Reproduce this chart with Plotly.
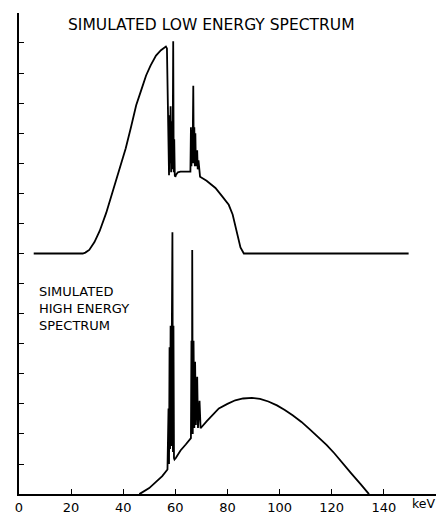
import plotly.graph_objects as go

# ---- data (keV, relative intensity in axis units) ----
low_kev = [5.7, 24.5, 25.5, 27, 29, 31, 33.5, 36, 38.5, 41, 43, 45, 47, 48.8, 50.5, 52.6,
           54.5, 55.5, 56.4, 56.8, 57.0, 57.2, 57.4, 57.6, 57.8, 58.0, 58.2, 58.4, 58.6, 58.8,
           59.0, 59.2, 59.4, 59.6, 59.8, 60.0, 60.3, 61, 62, 64, 65.8, 66.0, 66.2, 66.4, 66.6,
           66.9, 67.1, 67.3, 67.5, 67.7, 67.9, 68.1, 68.4, 68.6, 68.9, 69.2, 69.5, 72, 75.4,
           78, 80.5, 82, 83, 84, 85, 86.3, 149.5]
low_val = [0, 0, 0.03, 0.12, 0.38, 0.75, 1.35, 2.07, 2.8, 3.5, 4.2, 4.93, 5.45, 5.92, 6.25, 6.58,
           6.76, 6.84, 6.88, 6.82, 5.3, 5.0, 3.2, 2.6, 4.6, 3.0, 4.9, 2.7, 4.4, 2.8,
           3.6, 7.06, 2.7, 3.8, 2.6, 2.55, 2.62, 2.7, 2.72, 2.72, 2.72, 4.2, 2.9, 4.1, 3.0,
           5.58, 3.0, 4.2, 2.9, 4.0, 2.9, 3.2, 3.43, 2.8, 3.1, 2.6, 2.55, 2.42, 2.18,
           1.9, 1.62, 1.3, 0.96, 0.55, 0.2, 0, 0]

high_kev = [46.2, 48, 50, 52.5, 55, 57.0, 57.1, 57.2, 57.4, 57.6, 57.8, 58.0, 58.2, 58.4,
            58.6, 58.9, 59.1, 59.3, 59.5, 59.7, 60.2, 62, 64, 66.0, 66.2, 66.4, 66.5,
            66.7, 67.0, 67.3, 67.6, 67.9, 68.4, 68.7, 69.3, 69.7, 72, 74, 76.7, 80, 83,
            86, 89.4, 92.5, 95.7, 99, 102, 105, 108.4, 111.5, 114.8, 118, 121, 124,
            127.4, 131, 134.3]
high_val = [0, 0.1, 0.2, 0.4, 0.6, 0.82, 1.86, 0.9, 2.85, 1.0, 4.88, 1.5, 5.6, 1.6,
            5.0, 8.71, 1.4, 5.6, 1.2, 1.15, 1.2, 1.45, 1.65, 1.86, 5.1, 2.0, 8.12,
            2.0, 5.1, 2.2, 4.4, 2.3, 3.9, 2.2, 3.1, 2.19, 2.42, 2.6, 2.85, 3.0, 3.12,
            3.18, 3.2, 3.17, 3.08, 2.95, 2.8, 2.62, 2.4, 2.16, 1.91, 1.64, 1.36, 1.04,
            0.7, 0.34, 0]

x_tickvals = [0, 20, 40, 60, 80, 100, 120, 140, 160]
x_ticktext = ["0", "20", "40", "60", "80", "100", "120", "140", ""]
y_tickvals = list(range(0, 17))

UPPER_OFFSET = 8  # the low-energy spectrum is plotted shifted up by this many units

W, H = 436, 515
FONT = "DejaVu Sans"

fig = go.Figure()
fig.add_trace(go.Scatter(x=low_kev, y=[v + UPPER_OFFSET for v in low_val], mode="lines",
                         line=dict(color="black", width=1.8), showlegend=False,
                         hoverinfo="skip"))
fig.add_trace(go.Scatter(x=high_kev, y=high_val, mode="lines",
                         line=dict(color="black", width=1.8), showlegend=False,
                         hoverinfo="skip"))

fig.update_layout(
    width=W, height=H,
    margin=dict(l=0, r=0, t=0, b=0),
    paper_bgcolor="white", plot_bgcolor="white",
    font=dict(family=FONT, color="black"),
    xaxis=dict(range=[0, 160], domain=[15 / W, 1], showgrid=False, zeroline=False,
               showline=True, linecolor="black", linewidth=1.6,
               ticks="inside", ticklen=5, tickwidth=1.3, tickcolor="black",
               tickvals=x_tickvals, ticktext=x_ticktext,
               tickfont=dict(family=FONT, size=13, color="black")),
    yaxis=dict(range=[0, 16], domain=[17 / H, 502 / H], showgrid=False, zeroline=False,
               showline=True, linecolor="black", linewidth=1.6,
               ticks="inside", ticklen=5, tickwidth=1.3, tickcolor="black",
               tickvals=y_tickvals, showticklabels=False),
)

fig.add_annotation(text="SIMULATED LOW ENERGY SPECTRUM", xref="paper", yref="paper",
                   x=209 / W, y=1 - 25 / H, xanchor="center", yanchor="middle",
                   showarrow=False, font=dict(family=FONT, size=15.5, color="black"))
fig.add_annotation(text="SIMULATED<br>HIGH ENERGY<br>SPECTRUM", xref="paper", yref="paper",
                   x=33 / W, y=1 - 311 / H, xanchor="left", yanchor="middle", align="left",
                   showarrow=False, font=dict(family=FONT, size=13, color="black"))
fig.add_annotation(text="keV", xref="paper", yref="paper",
                   x=423 / W, y=1 - 498 / H, xanchor="center", yanchor="top",
                   showarrow=False, font=dict(family=FONT, size=12.5, color="black"))

fig.write_html("out.html", config={"displayModeBar": False},
               post_script="document.body.style.margin='0';")
